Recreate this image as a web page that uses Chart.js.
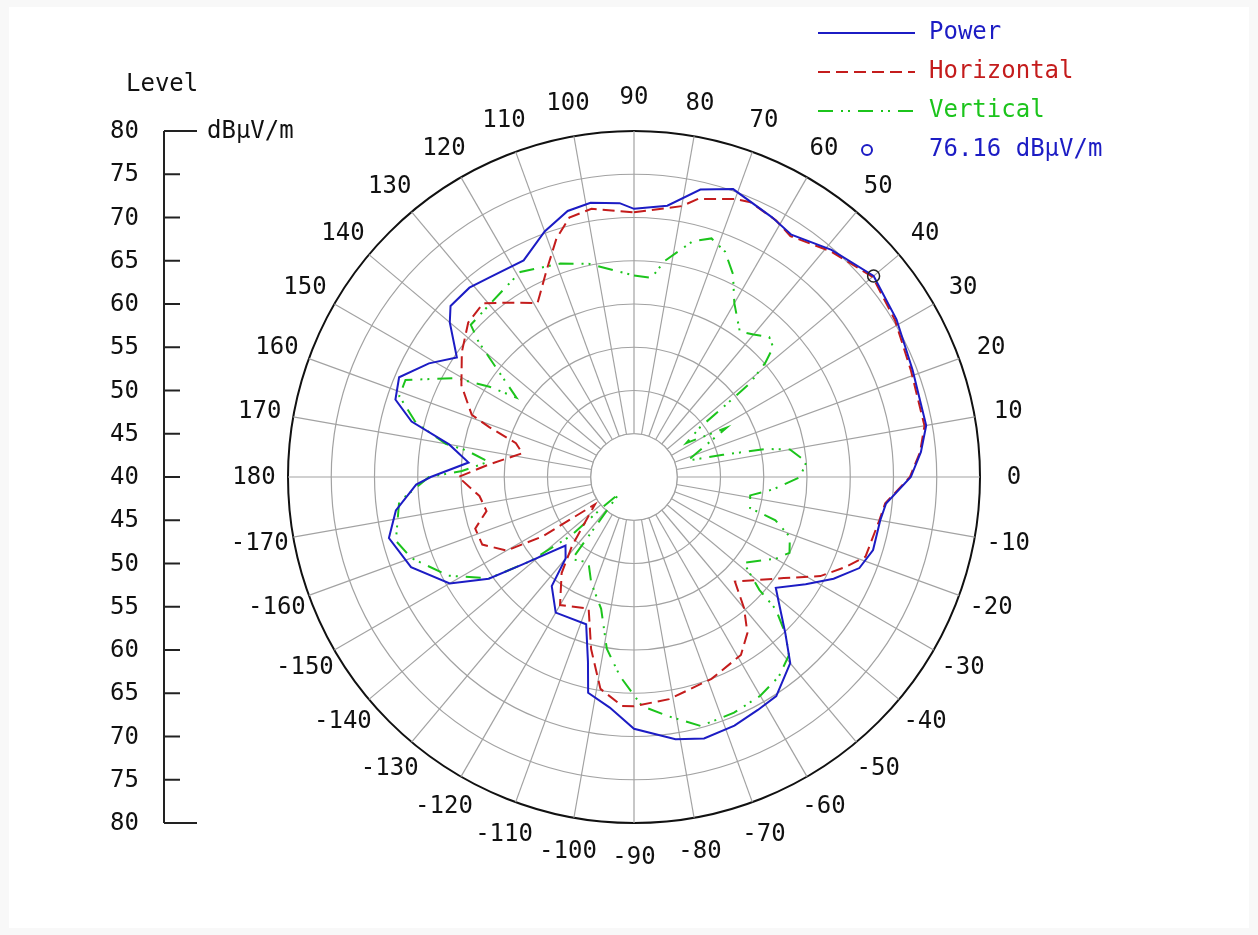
<!DOCTYPE html>
<html>
<head>
<meta charset="utf-8">
<script src="https://cdn.jsdelivr.net/npm/chart.js@4.4.1/dist/chart.umd.min.js"></script>
<style>
  html, body { margin: 0; padding: 0; background: #f8f8f8; }
  #polar { position: absolute; left: 0; top: 0; }
</style>
</head>
<body>
<canvas id="polar" width="1258" height="935"></canvas>
<script>
// angles in degrees (0 = right, counter-clockwise), levels in dBuV/m
const powerAngles = [-178,-172,-166,-158,-150,-145,-142,-135,-130,-127,
  -120,-108,-104,-102,-96,-90,-81,-75,-68,-62,
  -57,-50,-46,-41,-38,-32,-27,-22,-17,-10,
  -6,0,5,10,21,31,40,49,57,62,
  71,77,83,90,93,99,104,110,117,126,
  131,137,140,146,151,157,162,166,170,175,
  180];
const powerLevels = [65.2,67.8,69.2,67.8,64.6,60.5,56.5,51.2,52.3,55.8,
  58.1,57.9,62.0,65.5,66.8,69.1,70.7,71.3,71.0,70.5,
  70.2,68.1,65.2,62.2,60.8,63.4,65.9,68.1,68.9,68.9,
  69.3,72.0,73.3,74.3,74.5,75.4,76.16,74.8,73.4,74.0,
  75.2,74.1,71.6,71.0,71.7,72.1,71.7,70.2,68.1,68.5,
  69.0,69.0,67.8,64.7,67.1,69.5,69.0,66.5,61.7,59.2,
  63.5];

const horizontalAngles = [-173,-167,-162,-156,-150,-147,-145,-132,-127,-120,
  -109,-104,-99,-93,-90,-81,-69,-59,-54,-50,
  -46,-34,-28,-23,-19,-10,-6,0,5,10,
  21,31,40,49,57,61,67,70,77,80,
  90,99,104,108,113,119,126,131,137,144,
  152,159,161,164,168,175,180];
const horizontalLevels = [58.0,57.5,59.3,59.2,57.0,52.6,45.5,50.7,53.9,57.1,
  56.1,60.5,64.8,66.5,66.5,66.0,65.0,64.0,62.3,59.8,
  56.8,60.9,64.4,66.6,68.3,68.8,69.2,71.9,73.2,74.1,
  74.3,75.2,76.0,74.6,73.2,73.9,74.5,74.2,73.0,71.8,
  70.6,71.4,70.9,69.0,65.9,63.0,64.9,66.6,66.2,64.6,
  62.6,60.1,57.7,54.2,53.2,56.8,60.3];

const verticalAngles = [-174,-165,-160,-152,-145,-141,-137,-136,-132,-127,
  -118,-112,-104,-99,-94,-88,-82,-75,-67,-60,
  -54,-49,-46,-43,-42,-38,-30,-26,-21,-17,
  -15,-9,-5,0,5,10,12,14,17,28,
  33,37,38,39,41,43,46,50,54,60,
  64,68,72,76,82,85,90,102,109,119,
  126,137,139,142,146,148,151,157,161,166,
  170,171,174,178,180];
const verticalLevels = [67.3,68.5,67.4,64.3,60.4,55.5,49.9,45.0,42.6,51.9,
  51.2,53.2,55.7,60.1,63.1,66.5,67.9,69.8,69.6,69.2,
  68.5,67.3,65.2,62.4,59.5,56.1,58.9,60.0,59.3,57.1,
  53.9,53.6,56.2,59.2,60.0,58.3,55.6,50.6,46.5,52.1,
  47.2,49.6,53.0,57.3,60.1,62.0,62.5,61.5,60.8,63.2,
  66.1,68.1,69.0,68.1,65.2,63.1,63.3,65.2,66.1,67.1,
  66.3,65.8,63.8,59.9,56.4,59.7,63.6,68.7,68.7,66.0,
  62.1,59.6,56.9,59.9,63.7];

const markerAngle = 40;
const markerLevel = 76.16;

const levelMin = 40;
const levelMax = 80;
const levelStep = 5;
const legendNames = ['Power', 'Horizontal', 'Vertical'];
const unitText = 'dBµV/m';

const BLUE = '#1c1cc4';
const RED = '#c41c1c';
const GREEN = '#1cc41c';
const GRID = '#a2a2a2';
const FONT = '24px "DejaVu Sans Mono", "Liberation Mono", monospace';

// one radar label per degree, starting at 90 (top) and going clockwise
const angleLabels = [];
for (let i = 0; i < 360; i++) {
    let a = 90 - i;
    if (a <= -180) a += 360;
    angleLabels.push(a);
}
const toIndex = a => (((90 - a) % 360) + 360) % 360;

function buildSeries(angles, levels) {
    const arr = new Array(angleLabels.length).fill(null);
    angles.forEach((a, k) => { arr[toIndex(a)] = levels[k]; });
    return arr;
}

const markerData = new Array(angleLabels.length).fill(null);
markerData[toIndex(markerAngle)] = markerLevel;

function text(ctx, str, x, y, color, align) {
    ctx.fillStyle = color;
    ctx.textAlign = align || 'left';
    ctx.textBaseline = 'middle';
    ctx.fillText(str, x, y);
}

const polarDecor = {
    id: 'polarDecor',
    beforeDraw(chart) {
        const ctx = chart.ctx;
        ctx.save();
        ctx.fillStyle = '#f8f8f8';
        ctx.fillRect(0, 0, chart.width, chart.height);
        ctx.fillStyle = '#ffffff';
        ctx.fillRect(9, 7, 1240, 921);
        ctx.restore();
    },
    beforeDatasetsDraw(chart) {
        // blank centre inside the first ring
        const r = chart.scales.r;
        const ctx = chart.ctx;
        const hole = r.getDistanceFromCenterForValue(levelMin + levelStep);
        ctx.save();
        ctx.beginPath();
        ctx.arc(r.xCenter, r.yCenter, hole, 0, Math.PI * 2);
        ctx.fillStyle = '#ffffff';
        ctx.fill();
        ctx.strokeStyle = GRID;
        ctx.lineWidth = 1.2;
        ctx.stroke();
        ctx.restore();
    },
    afterDraw(chart) {
        const r = chart.scales.r;
        const ctx = chart.ctx;
        const R = r.drawingArea;
        ctx.save();
        ctx.font = FONT;

        // angle labels every 10 degrees
        angleLabels.forEach((a, i) => {
            if (a % 10 !== 0) return;
            const p = r.getPointPosition(i, R + 34);
            text(ctx, String(a), p.x, p.y + 1, '#111', 'center');
        });

        // level axis on the left, mirrored about the centre
        const axisX = 164;
        ctx.strokeStyle = '#222';
        ctx.lineWidth = 2;
        ctx.beginPath();
        ctx.moveTo(axisX, r.yCenter - R);
        ctx.lineTo(axisX, r.yCenter + R);
        ctx.stroke();
        r.ticks.forEach(t => {
            const d = r.getDistanceFromCenterForValue(t.value);
            const len = t.value === levelMax ? 33 : 16;
            const ys = d === 0 ? [r.yCenter] : [r.yCenter - d, r.yCenter + d];
            ys.forEach(y => {
                ctx.beginPath();
                ctx.moveTo(axisX, y);
                ctx.lineTo(axisX + len, y);
                ctx.stroke();
                text(ctx, String(t.value), 139, y + 1, '#111', 'right');
            });
        });
        text(ctx, 'Level', 126, 85, '#111');
        text(ctx, unitText, 207, r.yCenter - R + 1, '#111');

        // legend
        const lx0 = 818, lx1 = 915, tx = 929;
        const rows = [33, 72, 111];
        const styles = [
            {color: BLUE, dash: []},
            {color: RED, dash: [12, 6]},
            {color: GREEN, dash: [15, 8, 2, 5, 2, 8]}
        ];
        styles.forEach((s, k) => {
            ctx.strokeStyle = s.color;
            ctx.lineWidth = 2;
            ctx.setLineDash(s.dash);
            ctx.beginPath();
            ctx.moveTo(lx0, rows[k]);
            ctx.lineTo(lx1, rows[k]);
            ctx.stroke();
            ctx.setLineDash([]);
            text(ctx, legendNames[k], tx, rows[k], s.color);
        });
        ctx.strokeStyle = BLUE;
        ctx.lineWidth = 2;
        ctx.beginPath();
        ctx.arc(867, 150, 5, 0, Math.PI * 2);
        ctx.stroke();
        text(ctx, markerLevel.toFixed(2) + ' ' + unitText, tx, 150, BLUE);
        ctx.restore();
    }
};

new Chart(document.getElementById('polar'), {
    type: 'radar',
    data: {
        labels: angleLabels,
        datasets: [
            {
                label: 'Max',
                data: markerData,
                showLine: false,
                fill: false,
                pointRadius: 6,
                pointBorderWidth: 1.5,
                pointBorderColor: '#222',
                pointBackgroundColor: 'rgba(0,0,0,0)'
            },
            {
                label: legendNames[0],
                data: buildSeries(powerAngles, powerLevels),
                borderColor: BLUE,
                borderWidth: 2,
                fill: false,
                spanGaps: true
            },
            {
                label: legendNames[1],
                data: buildSeries(horizontalAngles, horizontalLevels),
                borderColor: RED,
                borderWidth: 2,
                borderDash: [12, 6],
                fill: false,
                spanGaps: true
            },
            {
                label: legendNames[2],
                data: buildSeries(verticalAngles, verticalLevels),
                borderColor: GREEN,
                borderWidth: 2,
                borderDash: [15, 8, 2, 5, 2, 8],
                fill: false,
                spanGaps: true
            }
        ]
    },
    options: {
        responsive: false,
        animation: false,
        devicePixelRatio: 1,
        layout: { padding: { left: 288, right: 278, top: 131, bottom: 112 } },
        elements: {
            point: { radius: 0, hitRadius: 0 },
            line: { tension: 0 }
        },
        plugins: {
            legend: { display: false },
            tooltip: { enabled: false }
        },
        scales: {
            r: {
                min: levelMin,
                max: levelMax,
                startAngle: 0,
                ticks: { display: false, stepSize: levelStep },
                pointLabels: { display: false },
                grid: {
                    circular: true,
                    color: c => c.tick && c.tick.value === levelMax ? '#111' : GRID,
                    lineWidth: c => c.tick && c.tick.value === levelMax ? 2 : 1.2
                },
                angleLines: {
                    color: GRID,
                    lineWidth: c => (c.index % 10 === 0 ? 1.2 : 0)
                }
            }
        }
    },
    plugins: [polarDecor]
});
</script>
</body>
</html>
